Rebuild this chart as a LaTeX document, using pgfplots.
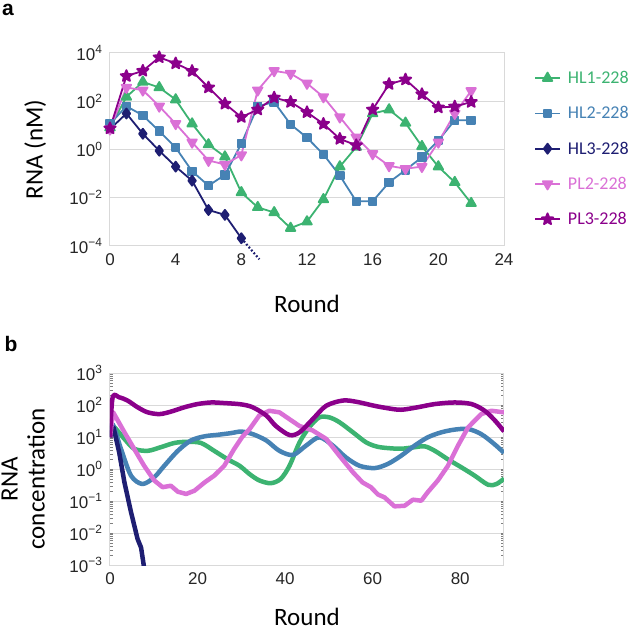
\documentclass[border=0pt]{standalone}
\usepackage{fontspec}
\setmainfont{Carlito}
\newfontfamily\arial{Liberation Sans}
\usepackage{pgfplots}
\pgfplotsset{compat=1.18}
\definecolor{cHLa}{HTML}{3CB371}
\definecolor{cHLb}{HTML}{4682B4}
\definecolor{cHLc}{HTML}{1E1E72}
\definecolor{cPLb}{HTML}{DA70D6}
\definecolor{cPLc}{HTML}{8B008B}
\definecolor{gridc}{HTML}{D9D9D9}
\pgfdeclareplotmark{fstar}{%
  \pgfpathmoveto{\pgfpointpolar{90}{\pgfplotmarksize}}%
  \pgfpathlineto{\pgfpointpolar{126}{0.45\pgfplotmarksize}}%
  \pgfpathlineto{\pgfpointpolar{162}{\pgfplotmarksize}}%
  \pgfpathlineto{\pgfpointpolar{198}{0.45\pgfplotmarksize}}%
  \pgfpathlineto{\pgfpointpolar{234}{\pgfplotmarksize}}%
  \pgfpathlineto{\pgfpointpolar{270}{0.45\pgfplotmarksize}}%
  \pgfpathlineto{\pgfpointpolar{306}{\pgfplotmarksize}}%
  \pgfpathlineto{\pgfpointpolar{342}{0.45\pgfplotmarksize}}%
  \pgfpathlineto{\pgfpointpolar{18}{\pgfplotmarksize}}%
  \pgfpathlineto{\pgfpointpolar{54}{0.45\pgfplotmarksize}}%
  \pgfpathclose\pgfusepathqfillstroke}
\pgfplotsset{
  base/.style={
    scale only axis, width=394pt,
    axis line style={gridc, line width=1pt},
    major tick length=0pt,
    ymajorgrids, grid style={gridc, line width=1pt},
    /pgf/number format/assume math mode=true,
    tick label style={font=\fontsize{17}{17}\arial, text=black!85},
    label style={font=\fontsize{25}{27}\selectfont, text=black},
    yticklabel style={xshift=-4pt},
    xticklabel style={yshift=-4pt},
  }
}
\begin{document}
\begin{tikzpicture}
\useasboundingbox (0,0) rectangle (633pt,-631pt);
\node[font=\fontsize{21}{21}\arial\bfseries, anchor=center] at (8pt,-10pt) {a};
\node[font=\fontsize{21}{21}\arial\bfseries, anchor=center] at (11pt,-344pt) {b};
\begin{axis}[base,
  at={(110pt,-53pt)}, anchor=north west, height=193pt,
  ymode=log, ymin=1e-4, ymax=1e4,
  ytick={1e-4,1e-2,1,1e2,1e4},
  yticklabels={10\textsuperscript{−4},10\textsuperscript{−2},10\textsuperscript{0},10\textsuperscript{2},10\textsuperscript{4}},
  xmin=0, xmax=24, xtick={0,4,8,12,16,20,24},
  xlabel={Round}, ylabel={RNA (nM)},
  xlabel style={at={(axis description cs:0.5,-0.30)}, anchor=center},
  ylabel style={at={(axis description cs:-0.19,0.5)}, anchor=center, rotate=0},
  clip=false,
  every axis plot/.append style={line width=1.8pt, line join=round},
  legend style={at={(axis description cs:1.076,0.917)}, anchor=north west, draw=none, fill=none,
    font=\fontsize{18}{19}\selectfont, row sep=17.5pt, column sep=5pt, inner sep=0pt, nodes={inner sep=2pt}},
  legend cell align=left,
  legend image code/.code={\draw[mark repeat=2,mark phase=2] plot coordinates {(0pt,0pt)(12.5pt,0pt)(25pt,0pt)};},
]
\addplot[cHLa, mark=triangle*, mark size=5.5pt] coordinates {
(0,8)(1,151)(2,631)(3,372)(4,117)(5,11.7)(6,1.6)(7,0.5)(8,0.0166)(9,0.004)(10,0.00245)(11,0.00055)
(12,0.00102)(13,0.0085)(14,0.195)(15,1.26)(16,31)(17,45)(18,12.6)(19,1.35)(20,0.195)(21,0.0437)(22,0.0059)};
\addlegendentry{\textcolor{cHLa}{HL1-228}}
\addplot[cHLb, mark=square*, mark size=3.8pt] coordinates {
(0,11.7)(1,62)(2,26)(3,5.75)(4,1.2)(5,0.126)(6,0.0316)(7,0.089)(8,1.74)(9,62)(10,93)(11,11)
(12,3.1)(13,0.63)(14,0.083)(15,0.0071)(16,0.0071)(17,0.0437)(18,0.141)(19,0.48)(20,2.37)(21,16.2)(22,16.2)};
\addlegendentry{\textcolor{cHLb}{HL2-228}}
\addplot[cHLc, mark=diamond*, mark size=5pt] coordinates {
(0,7)(1,31)(2,4.5)(3,0.89)(4,0.195)(5,0.051)(6,0.0031)(7,0.00195)(8,0.00021)};
\addlegendentry{\textcolor{cHLc}{HL3-228}}
\addplot[cPLb, mark=triangle*, mark size=5.5pt, mark options={rotate=180}] coordinates {
(0,7)(1,372)(2,288)(3,62)(4,11.7)(5,2)(6,0.35)(7,0.24)(8,0.59)(9,288)(10,1820)(11,1410)
(12,550)(13,151)(14,22)(15,3.2)(16,0.66)(17,0.21)(18,0.16)(19,0.195)(20,2)(21,31)(22,269)};
\addlegendentry{\textcolor{cPLb}{PL2-228}}
\addplot[cPLc, mark=fstar, mark size=6pt] coordinates {
(0,7.5)(1,1100)(2,1820)(3,6600)(4,3700)(5,1780)(6,372)(7,79)(8,22)(9,45)(10,141)(11,93)
(12,35)(13,11.5)(14,2.75)(15,1.5)(16,45)(17,513)(18,794)(19,195)(20,55)(21,60)(22,93)};
\addlegendentry{\textcolor{cPLc}{PL3-228}}
\addplot[cHLc, dotted, line width=2.2pt, forget plot] coordinates {(8,0.00021)(9.1,0.000028)};
\end{axis}
\begin{axis}[base,
  at={(110pt,-373pt)}, anchor=north west, height=192pt,
  ymode=log, ymin=1e-3, ymax=1e3,
  ytick={1e-3,1e-2,1e-1,1,1e1,1e2,1e3},
  yticklabels={10\textsuperscript{−3},10\textsuperscript{−2},10\textsuperscript{−1},10\textsuperscript{0},10\textsuperscript{1},10\textsuperscript{2},10\textsuperscript{3}},
  xmin=0, xmax=90, xtick={0,20,40,60,80},
  xlabel={Round}, ylabel={RNA\\concentration},
  xlabel style={at={(axis description cs:0.5,-0.27)}, anchor=center},
  ylabel style={at={(axis description cs:-0.22,0.448)}, anchor=center, align=center},
  every axis plot/.append style={line width=4.5pt, line join=round, no marks},
]
\addplot[cHLa, smooth, tension=0.5] coordinates {
(0,10)(0.6,22)(3.3,8.7)(5.5,4.3)(8.6,3.7)(11.6,4.8)(14.7,6.5)(17.7,7.1)(20.8,6.5)(23.8,3.7)(26.9,2.0)
(29.6,1.26)(31.9,0.69)(34.1,0.44)(36.7,0.36)(39,0.49)(41,1.26)(43.3,6.8)(45.5,20)(47.8,41)(50.1,41)
(52.4,29)(55.5,14)(58.5,6.8)(61,5)(63.5,4.5)(66.5,4.3)(69.6,4.8)(71.9,5.1)(74.2,3.7)(77.2,2.0)
(80.3,1.12)(83.3,0.62)(86.4,0.32)(88.3,0.34)(90,0.5)};
\addplot[cHLb, smooth, tension=0.5] coordinates {
(0,10)(0.6,25)(2.5,4.3)(4.8,0.62)(7.4,0.34)(10.1,0.55)(12.4,1.26)(15.5,3.7)(18.5,7.8)(21.6,10.5)
(24.6,11.7)(27.6,13.2)(30,14.8)(32.6,12.3)(35.7,7.8)(38.7,3.7)(41.8,2.75)(44.8,5.4)(47.8,9.8)
(50.9,5.4)(53.9,2.3)(57,1.26)(60.5,1.07)(63.5,1.45)(66.5,2.6)(69.6,5.4)(72.6,9.8)(75.7,14)
(78.7,17)(81.8,17.8)(84.8,12.3)(87.8,6)(90,3.2)};
\addplot[cHLc] coordinates {
(0,10)(0.8,20)(2.1,3.3)(3.3,0.38)(4.8,0.045)(6.3,0.0065)(7.1,0.0035)(7.7,0.001)(7.9,0.0005)};
\addplot[cPLb] coordinates {
(0,10)(0.7,60)(3.3,14)(5.5,4.3)(7.8,1.26)(10.1,0.44)(12,0.27)(13.9,0.30)(15.5,0.195)(17.4,0.166)
(19.3,0.21)(21.6,0.38)(23.8,0.62)(26.1,1.26)(28.4,4.3)(30.2,10)(31.9,17.8)(34.1,47)(36.4,66)
(38.7,59)(41,36)(43.3,22)(46.3,16)(49.4,8.7)(52.4,2.6)(55.5,0.79)(57.7,0.38)(59.6,0.27)(61.2,0.16)
(62.7,0.13)(65,0.068)(67.3,0.071)(69.2,0.11)(71.1,0.102)(72.6,0.19)(74.9,0.44)(77.2,1.26)
(79.5,5.4)(81.8,20)(84.8,52)(87.1,66)(90,59)};
\addplot[cPLc, smooth, tension=0.5] coordinates {
(0,9.8)(0.6,174)(2.1,174)(4,138)(6.3,85)(8.6,59)(11.3,52)(13.9,62)(17,85)(20,107)(23.1,120)
(26.1,115)(29.9,105)(32.6,85)(35.7,47)(37.9,22)(41,11.5)(43.3,14)(46.3,36)(49.4,95)(53.2,138)
(56.3,126)(60.3,95)(63.5,79)(66.5,71)(70.3,85)(74.2,107)(78.7,120)(82.6,107)(85.6,66)(88,32)(90,15)};
\end{axis}
\end{tikzpicture}
\end{document}
